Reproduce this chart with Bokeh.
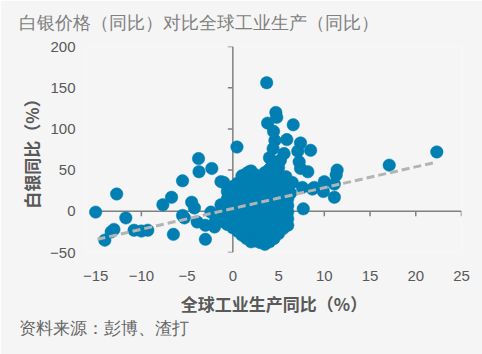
from bokeh.plotting import figure
from bokeh.models import LinearAxis, Range1d, FixedTicker, Title, ColumnDataSource
from bokeh.embed import file_html
from bokeh.resources import INLINE

# ---- data ----
title_text = "白银价格（同比）对比全球工业生产（同比）"
x_label = "全球工业生产同比（%）"
y_label = "白银同比（%）"
source_text = "资料来源：彭博、渣打"

x_ticks = [-15, -10, -5, 0, 5, 10, 15, 20, 25]
y_ticks = [-50, 0, 50, 100, 150, 200]

# scattered points outside the dense core
outer_x = [-15.0, -12.7, -11.7, -13.3, -13.0, -14.0, -10.8, -10.0, -9.3, -7.65,
           -6.7, -6.5, -5.5, -3.75, -3.7, -2.3, -4.5, -4.2, -5.3, -5.5,
           -3.9, -3.0, -2.0, -2.4, -1.9, -1.3, -0.4, -0.95, -3.0, -1.0,
           -1.3, 0.45, 3.7, 4.7, 4.8, 3.8, 6.6, 4.45, 5.9, 4.6,
           7.4, 4.4, 7.1, 8.5, 5.6, 5.2, 7.25, 7.4, 8.2, 4.3,
           4.0, 5.8, 1.8, 11.4, 11.3, 11.1, 10.0, 8.9, 7.6, 9.9,
           8.7, 11.1, 7.7, 17.1, 22.3, 6.5, 6.3]
outer_y = [-1, 21, -8, -25, -22, -35, -23, -24, -23, 8,
           17, -28, 37, 64, 48, 52, 11, 4, -8, -5,
           -13, -17, -19, -1, -12, 8, 11, -13, -34, 35,
           36, 78, 156, 120, 114, 107, 105, 97, 87, 86,
           83, 76, 73, 74, 70, 62, 60, 52, 48, 55,
           65, 42, 48, 50, 44, 33, 36, 29, 29, 24,
           27, 17, 3, 56, 72, 35, 22]

# dense core around 0..6 %
core_x = [-1.2, -1.2,
          -0.6, -0.6, -0.6, -0.6, -0.6,
          0.0, 0.0, 0.0, 0.0, 0.0, 0.0, 0.0,
          0.5, 0.5, 0.5, 0.5, 0.5, 0.5, 0.5, 0.5,
          1.0, 1.0, 1.0, 1.0, 1.0, 1.0, 1.0, 1.0, 1.0, 1.0,
          1.5, 1.5, 1.5, 1.5, 1.5, 1.5, 1.5, 1.5, 1.5, 1.5, 1.5,
          2.0, 2.0, 2.0, 2.0, 2.0, 2.0, 2.0, 2.0, 2.0, 2.0, 2.0, 2.0,
          2.5, 2.5, 2.5, 2.5, 2.5, 2.5, 2.5, 2.5, 2.5, 2.5, 2.5,
          3.0, 3.0, 3.0, 3.0, 3.0, 3.0, 3.0, 3.0, 3.0, 3.0, 3.0,
          3.5, 3.5, 3.5, 3.5, 3.5, 3.5, 3.5, 3.5, 3.5, 3.5, 3.5, 3.5,
          4.0, 4.0, 4.0, 4.0, 4.0, 4.0, 4.0, 4.0, 4.0, 4.0, 4.0, 4.0,
          4.5, 4.5, 4.5, 4.5, 4.5, 4.5, 4.5, 4.5, 4.5, 4.5, 4.5, 4.5,
          5.0, 5.0, 5.0, 5.0, 5.0, 5.0, 5.0, 5.0, 5.0, 5.0, 5.0, 5.0,
          5.5, 5.5, 5.5, 5.5, 5.5, 5.5, 5.5, 5.5,
          6.0, 6.0, 6.0, 6.0, 6.0]
core_y = [-10, 0,
          -16, -6, 4, 15, 24,
          -20, -11, -3, 6, 14, 22, 30,
          -24, -15, -7, 2, 10, 19, 27, 34,
          -29, -20, -12, -4, 5, 13, 21, 29, 37, 43,
          -33, -25, -17, -9, 0, 8, 16, 24, 32, 40, 46,
          -37, -29, -21, -13, -5, 3, 11, 19, 27, 35, 43, 49,
          -36, -28, -20, -12, -4, 4, 12, 20, 28, 36, 44,
          -38, -30, -22, -14, -6, 2, 10, 18, 26, 34, 42,
          -40, -32, -24, -16, -8, 0, 8, 16, 24, 32, 40, 47,
          -37, -29, -21, -13, -5, 3, 11, 19, 27, 35, 43, 51,
          -33, -25, -17, -9, -1, 7, 15, 23, 31, 39, 47, 56,
          -27, -19, -11, -3, 5, 13, 21, 29, 37, 45, 53, 60,
          -21, -13, -5, 3, 11, 19, 27, 36,
          -17, -9, -1, 7, 15]

trend_x = [-14.8, 22.2]
trend_y = [-34, 59.5]

# ---- styling ----
BG = "#f5f5f5"
DOT = "#017fb2"
TXT = "#595959"
AX = "#808080"
CJK = "Noto Sans CJK SC"

X0, X1, Y0, Y1 = -16, 25, -50, 200
W, H = 482, 354
ML, MR, MT, MB = 86, 21, 46, 102
FRAME_H = H - MT - MB

p = figure(width=W, height=H, output_backend="svg", toolbar_location=None,
           x_range=Range1d(X0, X1), y_range=Range1d(Y0, Y1),
           x_axis_location=None, y_axis_location=None,
           min_border_left=ML, min_border_right=MR, min_border_top=MT,
           min_border_bottom=MB,
           background_fill_color=BG, border_fill_color=BG)
p.outline_line_color = None
p.grid.visible = False

# title
p.title.text = title_text
p.title.align = "left"
p.title.vertical_align = "top"
p.title.offset = -68
p.title.standoff = 23
p.title.text_font = "Liberation Sans"
p.title.text_font_size = "18px"
p.title.text_font_style = "normal"
p.title.text_color = "#808080"

# label-only axes
xl = LinearAxis(ticker=FixedTicker(ticks=x_ticks), axis_line_color=None,
                major_tick_line_color=None, minor_tick_line_color=None,
                major_label_standoff=12, major_label_text_font="Liberation Sans",
                major_label_text_font_size="15px", major_label_text_color=TXT,
                axis_label=x_label, axis_label_text_font=CJK,
                axis_label_text_font_size="17px", axis_label_text_font_style="bold",
                axis_label_text_color=TXT, axis_label_standoff=7)
p.add_layout(xl, "below")

yl = LinearAxis(ticker=FixedTicker(ticks=y_ticks), axis_line_color=None,
                major_tick_line_color=None, minor_tick_line_color=None,
                major_label_standoff=5, major_label_text_font="Liberation Sans",
                major_label_text_font_size="15px", major_label_text_color=TXT,
                axis_label=y_label, axis_label_text_font=CJK,
                axis_label_text_font_size="17px", axis_label_text_font_style="bold",
                axis_label_text_color=TXT, axis_label_standoff=3)
p.add_layout(yl, "left")

# zero-crossing axis lines with tick marks (drawn first, under the points)
px_per_x = (W - ML - MR) / (X1 - X0)
px_per_y = FRAME_H / (Y1 - Y0)
tick_dx = 5 / px_per_x
tick_dy = 5 / px_per_y
p.segment(x0=[x_ticks[0]], y0=[0], x1=[x_ticks[-1]], y1=[0],
          line_color=AX, line_width=1.5)
p.segment(x0=x_ticks, y0=[0] * len(x_ticks), x1=x_ticks, y1=[-tick_dy] * len(x_ticks),
          line_color=AX, line_width=1.5)
p.segment(x0=[0], y0=[y_ticks[0]], x1=[0], y1=[y_ticks[-1]],
          line_color=AX, line_width=1.5)
p.segment(x0=[0] * len(y_ticks), y0=y_ticks, x1=[-tick_dx] * len(y_ticks), y1=y_ticks,
          line_color=AX, line_width=1.5)

src = ColumnDataSource(dict(x=outer_x + core_x, y=outer_y + core_y))
p.scatter("x", "y", source=src, size=12.5, fill_color=DOT, line_color=DOT, line_width=0.5)

p.line(trend_x, trend_y, line_color="#b4b4b4", line_width=3, line_dash="8 4")

p.add_layout(Title(text=source_text, align="left", vertical_align="top", offset=-68,
                   standoff=0, text_font="Liberation Sans", text_font_size="17px",
                   text_font_style="normal", text_color="#666666"), "below")

open("out.html", "w").write(file_html(p, INLINE))
